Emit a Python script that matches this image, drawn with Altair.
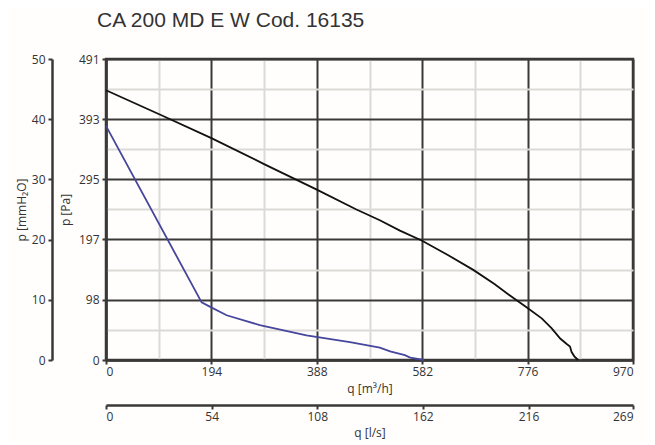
import altair as alt
import pandas as pd

# Fan curves (q in m3/h, p in Pa)
black_q = [0, 100, 194, 290, 388, 460, 504, 541, 581, 630, 676, 715, 750, 774, 802, 820, 836, 848, 854, 857, 862, 869]
black_p = [440, 400, 362, 320, 278, 246, 228, 211, 195, 171, 147, 124, 101, 86, 68, 52, 35, 26, 22, 13, 6, 0]
blue_q = [0, 176, 191, 222, 283, 369, 449, 504, 523, 541, 550, 560, 585]
blue_p = [382, 94, 87, 73, 57, 40, 29, 20, 14, 10, 8, 4, 0]

q_major = [0, 194, 388, 582, 776, 970]
q_minor = [97, 291, 485, 679, 873]
p_major = [0, 98, 197, 295, 393, 491]
p_minor = [49, 147, 246, 344, 442]
mm_ticks = [0, 10, 20, 30, 40, 50]
ls_ticks = [0, 54, 108, 162, 216, 269.4]

df = pd.DataFrame({
    "q": black_q + blue_q,
    "p": black_p + blue_p,
    "s": ["A"] * len(black_q) + ["B"] * len(blue_q),
    "o": list(range(len(black_q))) + list(range(len(blue_q))),
})

DARK = "#3b3937"
LIGHT = "#dcd9d6"
FONT = "Open Sans"

W, H = 527, 301
xs = alt.Scale(domain=[0, 970], nice=False, zero=True)
ys = alt.Scale(domain=[0, 491], nice=False, zero=True)

base = alt.Chart(df)

minor = base.mark_line(opacity=0).encode(
    x=alt.X("q:Q", scale=xs, axis=alt.Axis(values=q_minor, grid=True, gridColor=LIGHT, gridWidth=2,
                                            labels=False, ticks=False, domain=False, title=None, orient="bottom")),
    y=alt.Y("p:Q", scale=ys, axis=alt.Axis(values=p_minor, grid=True, gridColor=LIGHT, gridWidth=2,
                                            labels=False, ticks=False, domain=False, title=None, orient="left")),
    detail="s:N",
)

main = base.mark_line(strokeWidth=1.8).encode(
    x=alt.X("q:Q", scale=xs, axis=alt.Axis(values=q_major, grid=True, gridColor=DARK, gridWidth=2,
                                            title="q [m³/h]", orient="bottom", format="d",
                                            labelPadding=2, titlePadding=6)),
    y=alt.Y("p:Q", scale=ys, axis=alt.Axis(values=p_major, grid=True, gridColor=DARK, gridWidth=2,
                                            title="p [Pa]", orient="left", format="d",
                                            labelPadding=3, titlePadding=6)),
    color=alt.Color("s:N", scale=alt.Scale(domain=["A", "B"], range=["#111111", "#45469c"]), legend=None),
    order="o:Q",
)

mm = base.transform_calculate(mm="datum.p / 9.81").mark_line(opacity=0).encode(
    x=alt.X("q:Q", scale=xs, axis=None),
    y=alt.Y("mm:Q", scale=alt.Scale(domain=[0, 50], nice=False, zero=True),
            axis=alt.Axis(values=mm_ticks, grid=False, title="p [mmH₂O]", orient="left", offset=54,
                          labelPadding=3, titlePadding=3)),
    detail="s:N",
)

ls = base.transform_calculate(ls="datum.q / 3.6").mark_line(opacity=0).encode(
    x=alt.X("ls:Q", scale=alt.Scale(domain=[0, 269.4], nice=False, zero=True),
            axis=alt.Axis(values=ls_ticks, grid=False, title="q [l/s]", orient="bottom", offset=45,
                          format=".0f", labelPadding=2, titlePadding=5)),
    y=alt.Y("p:Q", scale=ys, axis=None),
    detail="s:N",
)

chart = alt.layer(minor, main, mm, ls).resolve_scale(
    x="independent", y="independent"
).properties(
    width=W, height=H,
    title=alt.TitleParams("CA 200 MD E W Cod. 16135", anchor="start", frame="group", dx=-9, fontSize=21,
                          font="Liberation Sans", fontWeight="normal", color="#333333", offset=22),
    autosize=alt.AutoSizeParams(type="none"),
    padding={"left": 98, "top": 51, "right": 14, "bottom": 84},
    background="#fffefd",
).configure_view(
    stroke=DARK, strokeWidth=2.5
).configure_axis(
    domainColor=DARK, domainWidth=2.5, tickColor=DARK, tickWidth=2, tickSize=4,
    labelFont=FONT, labelFontSize=12, labelColor="#333333",
    titleFont=FONT, titleFontSize=12, titleColor="#333333", titleFontWeight="normal",
)

chart.save("out.html", embed_options={"renderer": "svg", "actions": False})
